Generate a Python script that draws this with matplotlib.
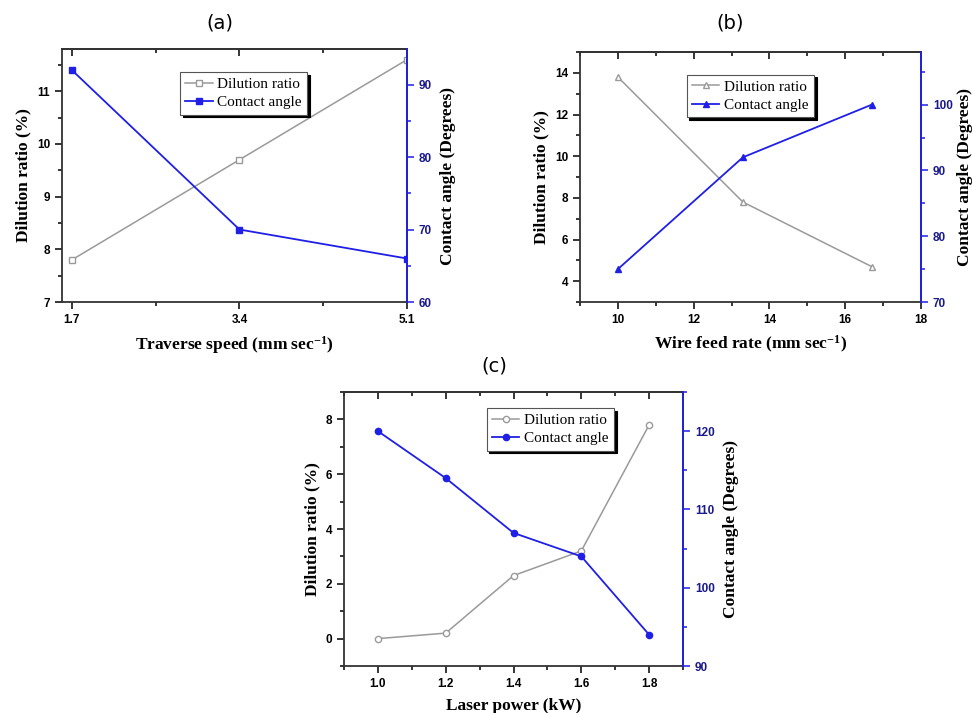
import numpy as np
import matplotlib.pyplot as plt
from matplotlib.ticker import MultipleLocator

# (a) traverse speed
speed = [1.7, 3.4, 5.1]
dil_a = [7.8, 9.7, 11.6]
ang_a = [92, 70, 66]

# (b) wire feed rate
feed = [10, 13.3, 16.7]
dil_b = [13.8, 7.8, 4.7]
ang_b = [75, 92, 100]

# (c) laser power
power = [1.0, 1.2, 1.4, 1.6, 1.8]
dil_c = [0.0, 0.2, 2.3, 3.2, 7.8]
ang_c = [120, 114, 107, 104, 94]

plt.rcParams["mathtext.fontset"] = "custom"
plt.rcParams["mathtext.rm"] = "Liberation Serif:bold"
plt.rcParams["mathtext.it"] = "Liberation Serif:bold"
plt.rcParams["mathtext.bf"] = "Liberation Serif:bold"
plt.rcParams["mathtext.default"] = "rm"

serif = ["Liberation Serif", "DejaVu Serif"]
tickfont = ["Liberation Sans", "DejaVu Sans"]
gray = "#9a9a9a"
blue = "#1f1fe6"
dblue = "#1a1a8a"

fig = plt.figure(figsize=(9.72, 7.13), dpi=100)


def panel(rect, x, d, a, marker, ms, xlim, ylim, y2lim, xt, xminor, yt, yminor, y2t, y2minor,
          xlabel, leg_pos, title, title_xy, pad2=6):
    ax = fig.add_axes(rect)
    ax2 = ax.twinx()
    l1, = ax.plot(x, d, color=gray, lw=1.1, marker=marker, ms=ms, mfc="white", mec=gray, mew=1,
                  label="Dilution ratio")
    l2, = ax2.plot(x, a, color=blue, lw=1.3, marker=marker, ms=ms, mfc=blue, mec=blue,
                   label="Contact angle")
    ax.set_xlim(*xlim)
    ax.set_ylim(*ylim)
    ax2.set_ylim(*y2lim)
    ax.set_xticks(xt)
    ax.xaxis.set_minor_locator(MultipleLocator(xminor))
    ax.set_yticks(yt)
    ax.yaxis.set_minor_locator(MultipleLocator(yminor))
    ax2.set_yticks(y2t)
    ax2.yaxis.set_minor_locator(MultipleLocator(y2minor))
    ax.tick_params(axis="both", which="both", direction="out", width=1.1, labelsize=8.5)
    ax.tick_params(which="major", length=5)
    ax.tick_params(which="minor", length=3)
    # top ticks pointing inward
    top = ax.secondary_xaxis("top")
    top.set_xticks(xt)
    top.xaxis.set_minor_locator(MultipleLocator(xminor))
    top.tick_params(which="both", direction="in", labeltop=False, width=1.1)
    top.tick_params(which="major", length=5)
    top.tick_params(which="minor", length=3)
    top.spines["top"].set_linewidth(1.3)
    top.spines["top"].set_color("#333333")
    ax2.tick_params(axis="y", which="both", direction="out", colors=blue, labelcolor=dblue,
                    width=1.1, labelsize=8.5)
    ax2.tick_params(which="major", length=5)
    ax2.tick_params(which="minor", length=3)
    for lab in ax.get_xticklabels() + ax.get_yticklabels() + ax2.get_yticklabels():
        lab.set_fontfamily(tickfont)
        lab.set_fontweight("bold")
    for s in ax.spines.values():
        s.set_linewidth(1.3)
        s.set_color("#333333")
    ax2.spines["right"].set_color(blue)
    ax2.spines["right"].set_linewidth(1.3)
    ax2.spines["left"].set_visible(False)
    ax2.spines["top"].set_visible(False)
    ax2.spines["bottom"].set_visible(False)
    ax.set_xlabel(xlabel, family=serif, fontsize=12.5, fontweight="bold", labelpad=6)
    ax.set_ylabel("Dilution ratio (%)", family=serif, fontsize=12.5, fontweight="bold", labelpad=4)
    ax2.set_ylabel("Contact angle (Degrees)", family=serif, fontsize=12.5, fontweight="bold",
                   labelpad=pad2)
    leg = ax2.legend([l1, l2], ["Dilution ratio", "Contact angle"], loc="upper left",
                     bbox_to_anchor=leg_pos, fancybox=False, shadow={"color": "black", "alpha": 1},
                     edgecolor="#555555", framealpha=1, borderpad=0.35, handlelength=1.8,
                     handletextpad=0.3, labelspacing=0.3, prop={"family": serif, "size": 11})
    leg.get_frame().set_linewidth(0.8)
    fig.text(title_xy[0], title_xy[1], title, ha="center", va="center", fontsize=14,
             family="DejaVu Sans")
    return ax, ax2


panel([0.0638, 0.5764, 0.355, 0.3548], speed, dil_a, ang_a, "s", 4.5,
      (1.6, 5.1), (7, 11.8), (60, 94.9), [1.7, 3.4, 5.1], 0.85, [7, 8, 9, 10, 11], 0.5,
      [60, 70, 80, 90], 5, r"Traverse speed (mm sec$^{-1}$)", (0.319, 0.94),
      "(a)", (0.226, 0.968))

panel([0.5967, 0.5764, 0.3508, 0.3506], feed, dil_b, ang_b, "^", 5,
      (9, 18), (3, 15), (70, 108), [10, 12, 14, 16, 18], 1, [4, 6, 8, 10, 12, 14], 1,
      [70, 80, 90, 100], 5, r"Wire feed rate (mm sec$^{-1}$)", (0.29, 0.94),
      "(b)", (0.751, 0.968), pad2=3)

panel([0.3539, 0.0659, 0.3488, 0.3843], power, dil_c, ang_c, "o", 4.5,
      (0.9, 1.9), (-1, 9), (90, 125), [1.0, 1.2, 1.4, 1.6, 1.8], 0.1, [0, 2, 4, 6, 8], 1,
      [90, 100, 110, 120], 5, "Laser power (kW)", (0.398, 0.97),
      "(c)", (0.509, 0.486))

fig.savefig("out.png", dpi=100)
